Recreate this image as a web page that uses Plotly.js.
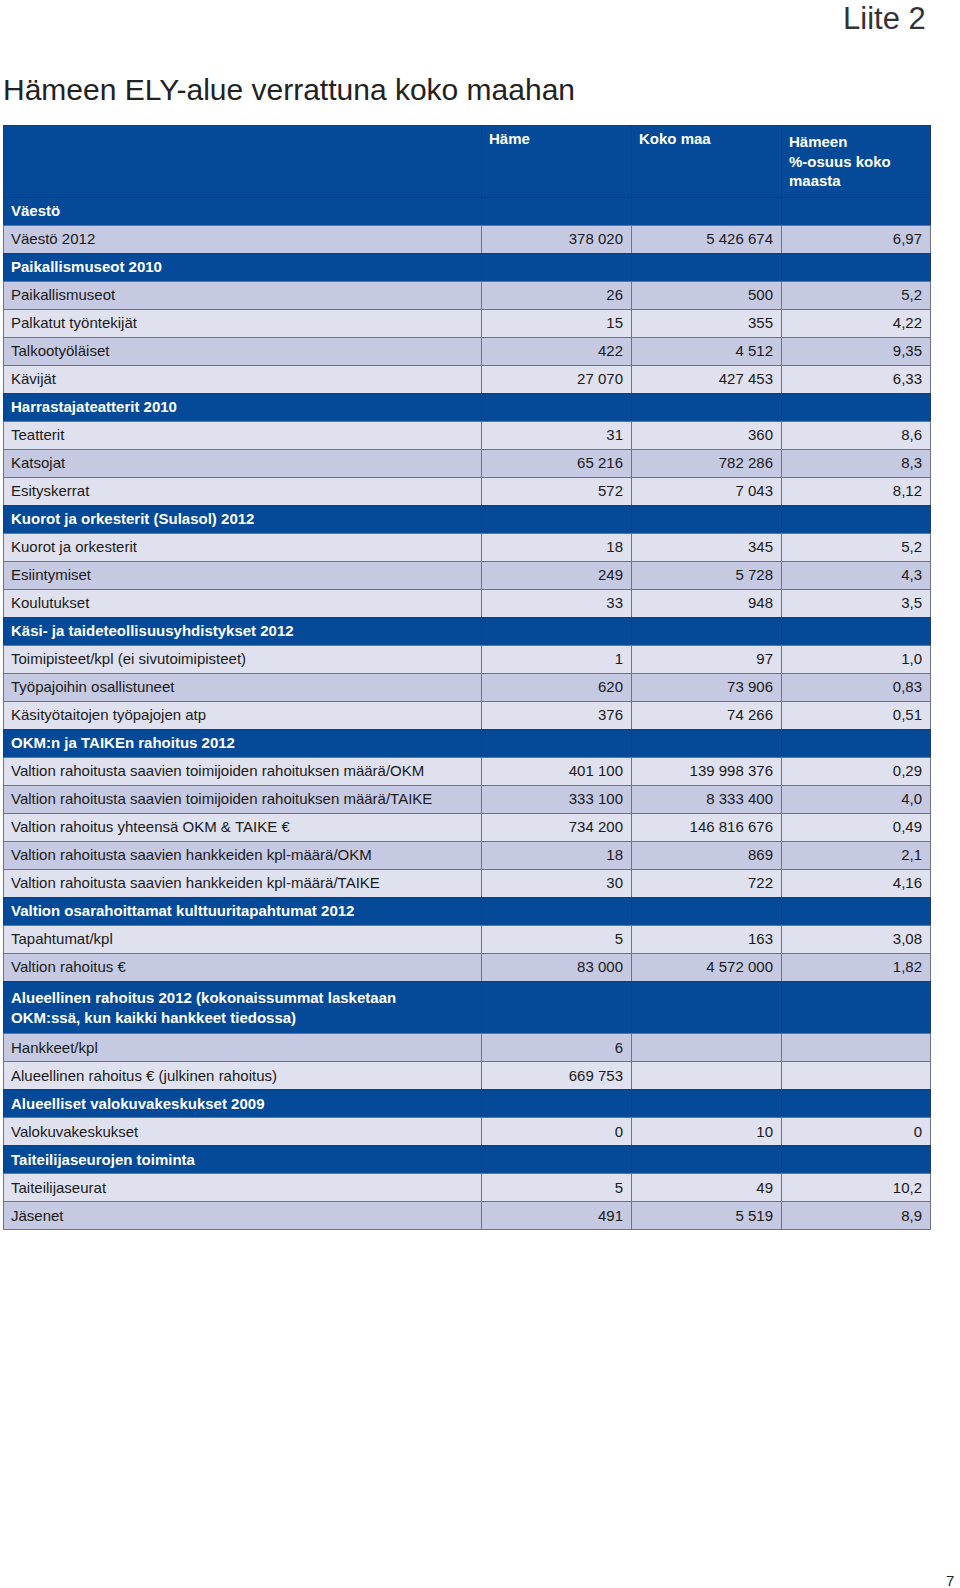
<!DOCTYPE html>
<html>
<head>
<meta charset="utf-8">
<script src="https://cdn.plot.ly/plotly-3.0.1.min.js"></script>
<style>html,body{margin:0;padding:0;background:#fff;}#chart{width:960px;height:1588px;}</style>
</head>
<body>
<div id="chart"></div>
<script>
// ---- data ----
var headers = ["", "Häme", "Koko maa", "Hämeen<br>%-osuus koko<br>maasta"];

var labels = [
  "Väestö",
  "Väestö 2012",
  "Paikallismuseot 2010",
  "Paikallismuseot",
  "Palkatut työntekijät",
  "Talkootyöläiset",
  "Kävijät",
  "Harrastajateatterit 2010",
  "Teatterit",
  "Katsojat",
  "Esityskerrat",
  "Kuorot ja orkesterit (Sulasol) 2012",
  "Kuorot ja orkesterit",
  "Esiintymiset",
  "Koulutukset",
  "Käsi- ja taideteollisuusyhdistykset 2012",
  "Toimipisteet/kpl (ei sivutoimipisteet)",
  "Työpajoihin osallistuneet",
  "Käsityötaitojen työpajojen atp",
  "OKM:n ja TAIKEn rahoitus 2012",
  "Valtion rahoitusta saavien toimijoiden rahoituksen määrä/OKM",
  "Valtion rahoitusta saavien toimijoiden rahoituksen määrä/TAIKE",
  "Valtion rahoitus yhteensä OKM & TAIKE €",
  "Valtion rahoitusta saavien hankkeiden kpl-määrä/OKM",
  "Valtion rahoitusta saavien hankkeiden kpl-määrä/TAIKE",
  "Valtion osarahoittamat kulttuuritapahtumat 2012",
  "Tapahtumat/kpl",
  "Valtion rahoitus €",
  "Alueellinen rahoitus 2012 (kokonaissummat lasketaan<br>OKM:ssä, kun kaikki hankkeet tiedossa)",
  "Hankkeet/kpl",
  "Alueellinen rahoitus € (julkinen rahoitus)",
  "Alueelliset valokuvakeskukset 2009",
  "Valokuvakeskukset",
  "Taiteilijaseurojen toiminta",
  "Taiteilijaseurat",
  "Jäsenet"
];

var hame = [
  "", "378 020", "", "26", "15", "422", "27 070", "", "31", "65 216", "572",
  "", "18", "249", "33", "", "1", "620", "376", "",
  "401 100", "333 100", "734 200", "18", "30", "", "5", "83 000", "",
  "6", "669 753", "", "0", "", "5", "491"
];

var kokoMaa = [
  "", "5 426 674", "", "500", "355", "4 512", "427 453", "", "360", "782 286", "7 043",
  "", "345", "5 728", "948", "", "97", "73 906", "74 266", "",
  "139 998 376", "8 333 400", "146 816 676", "869", "722", "", "163", "4 572 000", "",
  "", "", "", "10", "", "49", "5 519"
];

var osuus = [
  "", "6,97", "", "5,2", "4,22", "9,35", "6,33", "", "8,6", "8,3", "8,12",
  "", "5,2", "4,3", "3,5", "", "1,0", "0,83", "0,51", "",
  "0,29", "4,0", "0,49", "2,1", "4,16", "", "3,08", "1,82", "",
  "", "", "", "0", "", "10,2", "8,9"
];

// row kind: S = section heading, D = darker data row, L = lighter data row
var rowKind = [
  "S", "D", "S", "D", "L", "D", "L", "S", "L", "D", "L",
  "S", "L", "D", "L", "S", "L", "D", "L", "S",
  "L", "D", "L", "D", "L", "S", "L", "D", "S",
  "D", "L", "S", "L", "S", "L", "D"
];

// ---- styles ----
var BLUE = "#054a98";
var DARK = "#c5c9e2";
var LIGHT = "#dfe1ef";
var LINE_DATA = "#6e7282";
var LINE_SEC = "#1c3b6d";
var FONT = "Liberation Sans, Arial, Helvetica, sans-serif";

var fillCol = rowKind.map(function (k) { return k === "S" ? BLUE : (k === "D" ? DARK : LIGHT); });
var fontCol = rowKind.map(function (k) { return k === "S" ? "#ffffff" : "#1a1a1a"; });
var fontWt = rowKind.map(function (k) { return k === "S" ? "bold" : "normal"; });
var lineCol = rowKind.map(function (k) { return k === "S" ? LINE_SEC : LINE_DATA; });

// a literal "&" is kept as plain text (not markup): it goes through the suffix,
// with non-breaking spaces so the cell is not re-wrapped
var NB = function (s) { return s.replace(/ /g, "\u00a0"); };
var labelMain = labels.map(function (s) { var i = s.indexOf("&"); return i < 0 ? s : NB(s.slice(0, i)); });
var labelTail = labels.map(function (s) { var i = s.indexOf("&"); return i < 0 ? "" : NB(s.slice(i)); });
var noSuffix = labels.map(function () { return ""; });

var trace = {
  type: "table",
  domain: { x: [3 / 960, 930 / 960], y: [0, 1 - 125 / 1588] },
  columnwidth: [478, 150, 150, 149],
  header: {
    values: headers,
    align: "left",
    height: 68,
    fill: { color: BLUE },
    line: { color: LINE_SEC, width: 1 },
    font: { family: FONT, size: 15, color: "#ffffff", weight: "bold" }
  },
  cells: {
    values: [labelMain, hame, kokoMaa, osuus],
    suffix: [labelTail, noSuffix, noSuffix, noSuffix],
    align: ["left", "right", "right", "right"],
    height: 28,
    fill: { color: [fillCol, fillCol, fillCol, fillCol] },
    line: { color: [lineCol, lineCol, lineCol, lineCol], width: 1 },
    font: {
      family: FONT, size: 15,
      color: [fontCol, fontCol, fontCol, fontCol],
      weight: [fontWt, fontWt, fontWt, fontWt]
    }
  }
};

var layout = {
  width: 960,
  height: 1588,
  margin: { l: 0, r: 0, t: 0, b: 0 },
  paper_bgcolor: "#ffffff",
  title: {
    text: "Hämeen ELY-alue verrattuna koko maahan",
    x: 3 / 960, xanchor: "left", xref: "paper",
    y: 1 - 89 / 1588, yanchor: "middle", yref: "paper",
    font: { family: FONT, size: 30, color: "#222222" }
  },
  annotations: [
    {
      text: "Liite 2", xref: "paper", yref: "paper",
      x: 928 / 960, xanchor: "right", y: 1 - 19 / 1588, yanchor: "middle",
      showarrow: false, font: { family: FONT, size: 31, color: "#333333" }
    },
    {
      text: "7", xref: "paper", yref: "paper",
      x: 956 / 960, xanchor: "right", y: 1 - 1580 / 1588, yanchor: "middle",
      showarrow: false, font: { family: FONT, size: 15, color: "#222222" }
    }
  ]
};

Plotly.newPlot("chart", [trace], layout, { displayModeBar: false, staticPlot: true });
</script>
</body>
</html>
